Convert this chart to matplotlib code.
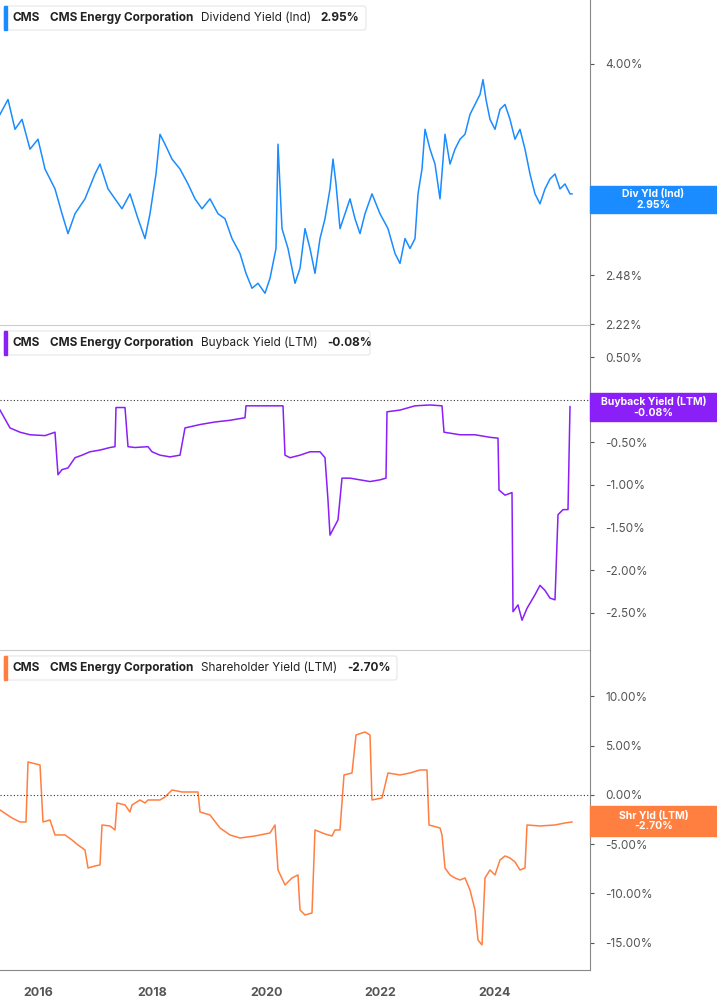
import matplotlib
matplotlib.use("Agg")
import matplotlib.pyplot as plt
from matplotlib.patches import FancyBboxPatch, Rectangle
import numpy as np

plt.rcParams["font.family"] = "Inter"

# ---- data (decimal years, values in %) ----
div_x = [0,8,15,22,30,38,45,55,62,68,75,85,95,100,108,115,122,130,138,145,150,156,160,165,172,180,188,195,202,210,218,225,232,240,246,252,258,265,270,276,278,282,288,295,300,305,310,315,320,325,330,333,336,340,345,350,355,360,365,372,380,388,395,400,405,410,415,418,422,425,430,435,440,445,450,455,460,465,470,475,480,483,486,490,495,500,505,510,515,520,525,530,535,540,545,550,555,560,565,570,572]
div_px = [115,100,130,120,150,140,170,190,215,235,215,200,175,165,190,200,210,195,220,240,215,175,135,145,160,170,185,200,210,200,215,220,240,255,275,290,285,295,280,250,145,230,250,285,270,230,250,275,240,220,190,160,185,230,215,200,220,235,215,195,215,230,255,265,240,250,240,195,170,130,150,165,200,135,165,150,140,135,115,105,95,80,100,120,130,110,105,120,140,130,150,175,195,205,190,180,175,190,185,195,195]
div_dates = [2015.33 + p/57 for p in div_x]
div_vals = [3*np.exp((192-p)/445) for p in div_px]

bb_x = [0,10,20,30,45,55,58,62,68,75,82,90,100,110,115,116,125,128,135,148,152,160,170,180,185,200,215,230,245,246,265,283,285,290,300,310,320,325,328,330,338,342,350,360,370,380,386,387,400,415,430,442,444,460,475,490,498,499,505,512,513,518,522,527,535,540,545,550,555,558,563,568,570]
bb_vals = [-0.12,-0.33,-0.38,-0.41,-0.42,-0.38,-0.88,-0.82,-0.80,-0.68,-0.65,-0.61,-0.59,-0.56,-0.55,-0.09,-0.09,-0.55,-0.56,-0.55,-0.61,-0.65,-0.67,-0.65,-0.33,-0.29,-0.26,-0.24,-0.21,-0.07,-0.07,-0.07,-0.65,-0.68,-0.65,-0.61,-0.61,-0.68,-1.18,-1.59,-1.41,-0.92,-0.92,-0.94,-0.96,-0.94,-0.92,-0.14,-0.12,-0.07,-0.06,-0.07,-0.38,-0.41,-0.41,-0.44,-0.45,-1.06,-1.12,-1.09,-2.49,-2.41,-2.59,-2.45,-2.29,-2.18,-2.24,-2.33,-2.35,-1.35,-1.29,-1.29,-0.08]
bb_dates = [2015.33 + p/57 for p in bb_x]

sh_x = [0,12,20,26,28,40,43,50,55,65,72,78,85,88,95,100,102,110,115,117,125,130,132,140,145,148,160,165,172,182,198,200,210,220,230,240,255,270,275,278,285,292,298,300,305,312,315,325,332,335,340,344,352,356,365,370,372,382,388,400,410,420,427,429,440,442,445,450,455,460,465,470,475,478,482,485,490,495,500,505,510,515,520,525,527,540,555,565,572]
sh_px = [810,818,822,822,762,765,822,820,835,835,840,845,850,868,866,865,825,826,830,803,805,812,805,800,803,800,800,797,790,792,792,812,815,828,835,838,836,833,825,870,885,878,875,910,915,913,830,834,836,830,830,775,773,735,732,735,800,798,773,775,773,770,770,825,828,835,868,875,878,880,878,890,910,940,945,878,870,875,860,856,858,862,870,868,825,826,825,823,822]
sh_dates = [2015.33 + p/57 for p in sh_x]
sh_vals = [(795-p)/9.85 for p in sh_px]

years = [2016, 2018, 2020, 2022, 2024]

C_BLUE = "#1a8cff"
C_PURP = "#8a1ff7"
C_ORNG = "#ff7f41"

fig = plt.figure(figsize=(7.17, 10.05), dpi=100)
W = 590/717
ax1 = fig.add_axes([0, 1-325/1005, W, 325/1005])
ax2 = fig.add_axes([0, 1-650/1005, W, 325/1005])
ax3 = fig.add_axes([0, 35/1005, W, (650-35)/1005 - 325/1005 + 10/1005 - 10/1005 + (1 - 650/1005) - (650-35)/1005 + 290/1005 - 290/1005] if False else [0, 35/1005, W, (1-650/1005) - 35/1005])

xl = (2015.33, 2015.33 + 590/57)
ax1.plot(div_dates, div_vals, color=C_BLUE, lw=1.1)
ax1.set_yscale("log")
ax1.set_ylim(2.215, 4.62)
ax1.set_yticks([2.22, 2.48, 3.0, 4.0])
ax1.set_yticklabels(["2.22%", "2.48%", "3.00%", "4.00%"])
ax1.minorticks_off()

ax2.plot(bb_dates, bb_vals, color=C_PURP, lw=1.1)
ax2.set_ylim(-2.94, 0.88)
ax2.set_yticks([0.5, -0.5, -1.0, -1.5, -2.0, -2.5])
ax2.set_yticklabels(["0.50%", "-0.50%", "-1.00%", "-1.50%", "-2.00%", "-2.50%"])
ax2.axhline(0, color="#333333", lw=0.8, ls=(0, (1, 2)))

ax3.plot(sh_dates, sh_vals, color=C_ORNG, lw=1.1)
ax3.set_ylim(-17.77, 14.72)
ax3.set_yticks([10, 5, 0, -5, -10, -15])
ax3.set_yticklabels(["10.00%", "5.00%", "0.00%", "-5.00%", "-10.00%", "-15.00%"])
ax3.axhline(0, color="#333333", lw=0.8, ls=(0, (1, 2)))

for ax in (ax1, ax2, ax3):
    ax.set_xlim(*xl)
    ax.set_facecolor("none")
    ax.yaxis.tick_right()
    for s in ("left", "top"):
        ax.spines[s].set_visible(False)
    ax.spines["right"].set_color("#888888")
    ax.spines["bottom"].set_color("#cccccc")
    ax.tick_params(axis="y", colors="#555555", labelcolor="#555555", labelsize=8.5, length=3, pad=8, direction="out")
    ax.tick_params(axis="x", length=0)
for ax in (ax1, ax2):
    ax.set_xticks([])
ax3.set_xticks(years)
ax3.set_xticklabels([str(y) for y in years])
ax3.tick_params(axis="x", labelsize=9, labelcolor="#555555", pad=12)
for lbl in ax3.get_xticklabels():
    lbl.set_fontweight("bold")
ax3.spines["bottom"].set_color("#888888")

def tag(ytop, ybot, color, lines):
    y0 = 1 - ybot/1005
    h = (ybot - ytop)/1005
    fig.patches.append(Rectangle((W, y0), 1-W, h, transform=fig.transFigure, color=color, zorder=5))
    fig.text((W+1)/2, y0+h/2, lines, ha="center", va="center", color="white", fontsize=7.5,
             fontweight="bold", zorder=6, linespacing=1.1)

tag(186, 213, C_BLUE, "Div Yld (Ind)\n2.95%")
tag(393, 421, C_PURP, "Buyback Yield (LTM)\n-0.08%")
tag(806, 836, C_ORNG, "Shr Yld (LTM)\n-2.70%")

def legend(ytop, color, metric, value, width):
    y0 = 1 - (ytop+26)/1005
    fig.patches.append(FancyBboxPatch((4/717, y0), width/717, 24/1005, boxstyle="round,pad=0,rounding_size=0.003",
                                      transform=fig.transFigure, fc="white", ec="#e6e6e6", lw=0.8, zorder=7))
    fig.patches.append(Rectangle((4/717, y0), 3/717, 24/1005, transform=fig.transFigure, color=color, zorder=8))
    yc = y0 + 12/1005
    fig.text(13/717, yc, "CMS", fontsize=8.5, fontweight="bold", color="#222222", va="center", zorder=9)
    fig.text(50/717, yc, "CMS Energy Corporation", fontsize=8.5, fontweight="bold", color="#222222", va="center", zorder=9)
    mt = fig.text(201/717, yc, metric, fontsize=8.5, color="#222222", va="center", zorder=9)
    fig.texts.append(matplotlib.text.Annotation(value, xy=(1, 0.5), xycoords=mt, xytext=(7, 0),
                                                textcoords="offset points", fontsize=8.5, fontweight="bold",
                                                color="#222222", va="center", zorder=9))
    fig.texts[-1].set_figure(fig)

legend(4, C_BLUE, "Dividend Yield (Ind)", "2.95%", 362)
legend(329, C_PURP, "Buyback Yield (LTM)", "-0.08%", 366)
legend(654, C_ORNG, "Shareholder Yield (LTM)", "-2.70%", 393)

fig.savefig("out.png", dpi=100)
